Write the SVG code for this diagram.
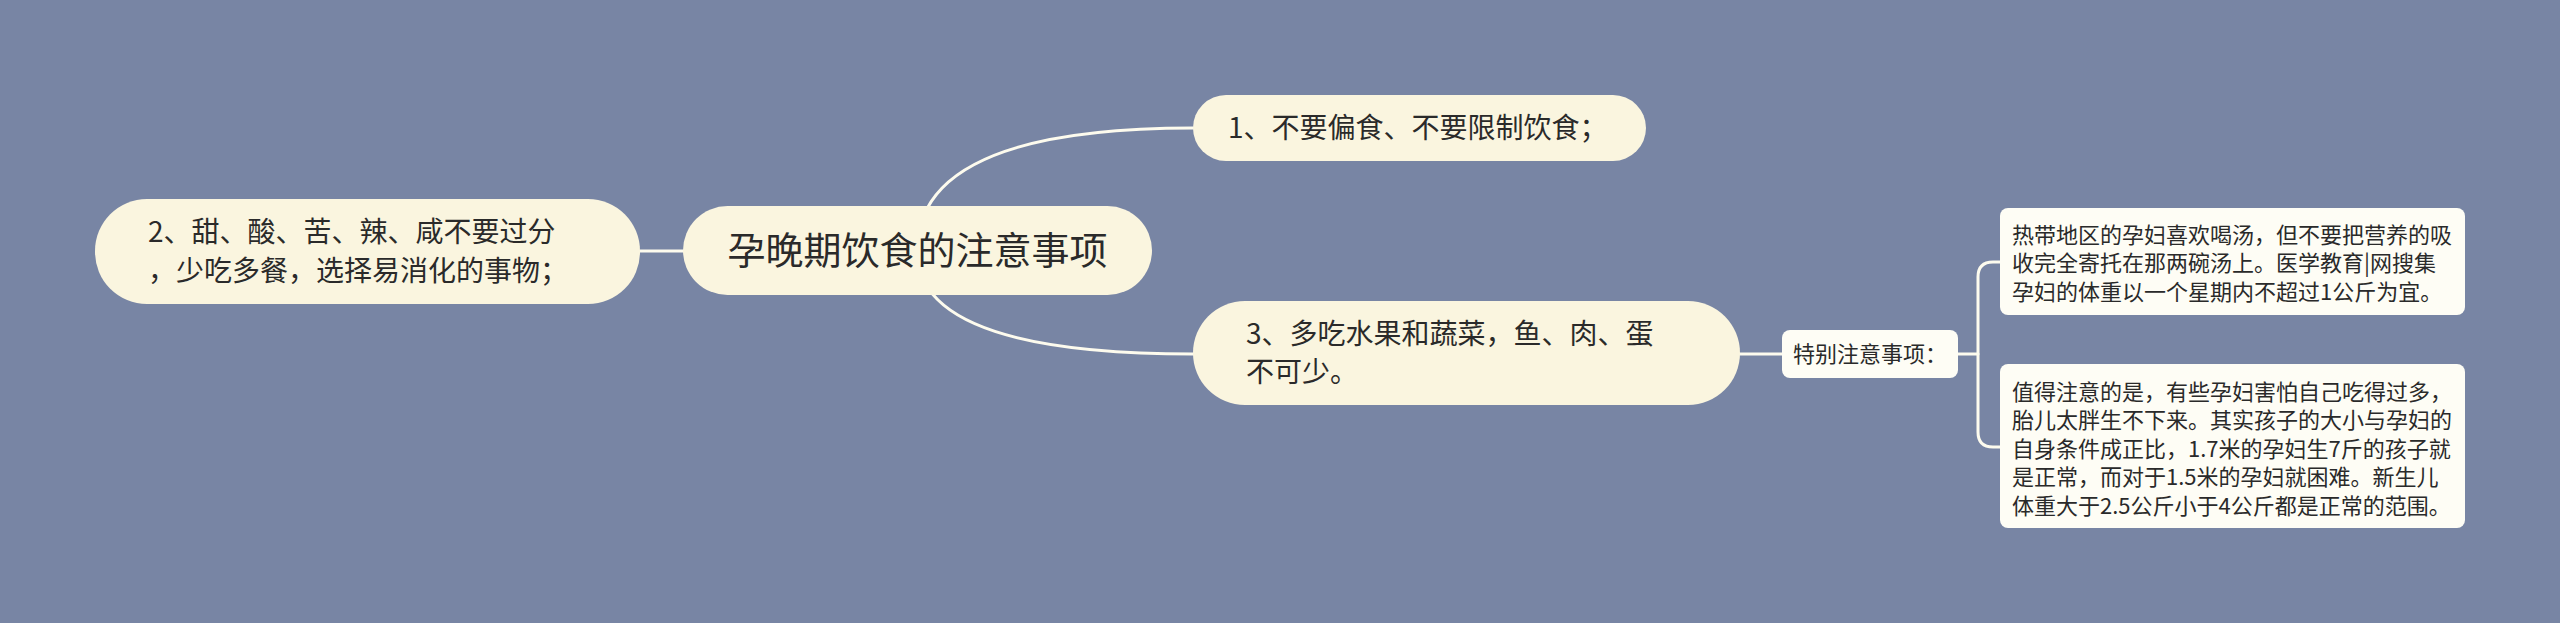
<svg xmlns="http://www.w3.org/2000/svg" width="2560" height="623" viewBox="0 0 2560 623">
<style>
.bg{fill:#7885a4}
.lvl{fill:#faf5df}
.leaf{fill:#fefdf5}
.edge{fill:none;stroke:#fdfbee;stroke-width:3;stroke-linecap:round}
text{font-family:"Noto Sans CJK SC","Noto Sans",sans-serif;fill:#2a2a2a}
.t1{font-size:28px}
.t0{font-size:38px}
.t2{font-size:22px}
</style>
<rect class="bg" x="0" y="0" width="2560" height="623"/>
<g id="connectors">
<path class="edge" d="M917,251 Q917,128 1193,128"/>
<path class="edge" d="M917,251 Q917,354 1193,354"/>
<path class="edge" d="M640,251 H684"/>
<path class="edge" d="M1740,354 H1782"/>
<path class="edge" d="M1958,354 H1978"/>
<path class="edge" d="M2000,262 H1993 Q1978,262 1978,277 V432 Q1978,447 1993,447 H2000"/>
</g>
<g id="root">
<rect class="lvl" x="683" y="206" width="469" height="89" rx="44.5"/>
<text class="t0" x="917.5" y="264" text-anchor="middle">孕晚期饮食的注意事项</text>
</g>
<g id="node1">
<rect class="lvl" x="1193" y="95" width="453" height="66" rx="33"/>
<text class="t1" x="1228" y="138">1、不要偏食、不要限制饮食；</text>
</g>
<g id="node2">
<rect class="lvl" x="95" y="199" width="545" height="105" rx="52"/>
<text class="t1" x="148" y="242">2、甜、酸、苦、辣、咸不要过分</text>
<text class="t1" x="148" y="281">，少吃多餐，选择易消化的事物；</text>
</g>
<g id="node3">
<rect class="lvl" x="1193" y="301" width="547" height="104" rx="52"/>
<text class="t1" x="1246" y="344">3、多吃水果和蔬菜，鱼、肉、蛋</text>
<text class="t1" x="1246" y="382">不可少。</text>
</g>
<g id="label">
<rect class="leaf" x="1782" y="330" width="176" height="48" rx="8"/>
<text class="t2" x="1793" y="362">特别注意事项：</text>
</g>
<g id="boxA">
<rect class="leaf" x="2000" y="208" width="465" height="107" rx="8"/>
<text class="t2" x="2012" y="243">热带地区的孕妇喜欢喝汤，但不要把营养的吸</text>
<text class="t2" x="2012" y="271">收完全寄托在那两碗汤上。医学教育|网搜集</text>
<text class="t2" x="2012" y="300">孕妇的体重以一个星期内不超过1公斤为宜。</text>
</g>
<g id="boxB">
<rect class="leaf" x="2000" y="364" width="465" height="164" rx="8"/>
<text class="t2" x="2012" y="400">值得注意的是，有些孕妇害怕自己吃得过多，</text>
<text class="t2" x="2012" y="428">胎儿太胖生不下来。其实孩子的大小与孕妇的</text>
<text class="t2" x="2012" y="457">自身条件成正比，1.7米的孕妇生7斤的孩子就</text>
<text class="t2" x="2012" y="485">是正常，而对于1.5米的孕妇就困难。新生儿</text>
<text class="t2" x="2012" y="514">体重大于2.5公斤小于4公斤都是正常的范围。</text>
</g>
</svg>
